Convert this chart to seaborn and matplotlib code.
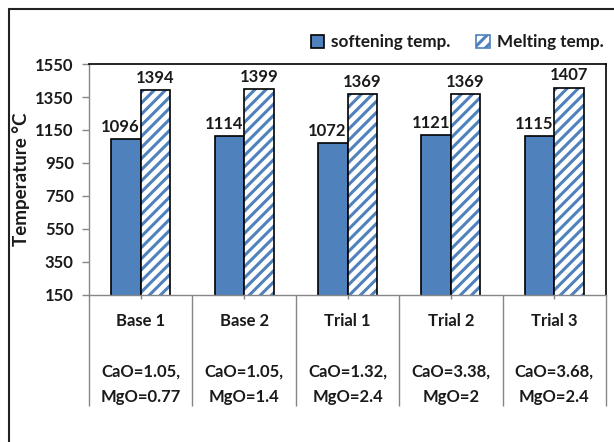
import matplotlib
matplotlib.use("Agg")
import matplotlib.pyplot as plt
from matplotlib.patches import Rectangle, Patch
from matplotlib.lines import Line2D
from matplotlib.transforms import blended_transform_factory
import seaborn as sns
import pandas as pd

# Test data
samples = ["Base 1", "Base 2", "Trial 1", "Trial 2", "Trial 3"]
compositions = ["CaO=1.05,\nMgO=0.77", "CaO=1.05,\nMgO=1.4", "CaO=1.32,\nMgO=2.4",
                "CaO=3.38,\nMgO=2", "CaO=3.68,\nMgO=2.4"]
softening = [1096, 1114, 1072, 1121, 1115]
melting = [1394, 1399, 1369, 1369, 1407]
series = ["softening temp.", "Melting temp."]
y_ticks = [150, 350, 550, 750, 950, 1150, 1350, 1550]

sns.set_theme(style="white")
plt.rcParams["font.family"] = ["Lato", "DejaVu Sans"]
plt.rcParams["hatch.linewidth"] = 2.2

BLUE = "#4F81BD"
GRAY = "#868686"
TEXT = "#1a1a1a"

df = pd.DataFrame({
    "sample": samples * 2,
    "series": [series[0]] * len(samples) + [series[1]] * len(samples),
    "temp": softening + melting,
})

fig = plt.figure(figsize=(6.14, 4.42), dpi=100)
ax = fig.add_axes([0.145, 0.3326, 0.842, 0.5226])

sns.barplot(data=df, x="sample", y="temp", hue="series", order=samples,
            hue_order=series, palette=[BLUE, "white"], saturation=1, width=0.57, gap=0,
            edgecolor="black", linewidth=1.2, legend=False, ax=ax)

# Style the melting-temperature bars with a blue diagonal hatch and black outline
n = len(samples)
bars = list(ax.patches)[: 2 * n]
for p in bars[n:]:
    p.set_facecolor("white")
    p.set_hatch("///")
    p.set_edgecolor(BLUE)
    p.set_linewidth(0)
    ax.add_patch(Rectangle((p.get_x(), p.get_y()), p.get_width(), p.get_height(),
                           fill=False, edgecolor="black", linewidth=1.2, zorder=p.get_zorder() + 0.1))

# Value labels above each bar
for k, (p, v) in enumerate(zip(bars, softening + melting)):
    dx = -4 if k < n else 0
    ax.annotate(f"{v}", (p.get_x() + p.get_width() / 2, v), xytext=(dx, 3),
                textcoords="offset points", ha="center", va="bottom",
                fontsize=12, fontweight="bold", color=TEXT)

ax.set_ylim(150, 1550)
ax.set_xlim(-0.5, n - 0.5)
ax.set_yticks(y_ticks)
ax.set_yticklabels([str(t) for t in y_ticks], fontsize=12, fontweight="bold", color=TEXT)
ax.tick_params(axis="y", length=5, width=1, color=GRAY, left=True, pad=6)

# Category axis: short ticks at centres, long divider ticks between samples
ax.set_xticks(range(n))
ax.set_xticklabels([])
ax.set_xticks([i - 0.5 for i in range(n + 1)], minor=True)
ax.tick_params(axis="x", which="major", length=3, width=1, color=GRAY, bottom=True)
ax.tick_params(axis="x", which="minor", length=80, width=1, color=GRAY, bottom=True)
ax.set_xlabel("")

trans = blended_transform_factory(ax.transData, ax.transAxes)
for i, (s, c) in enumerate(zip(samples, compositions)):
    ax.text(i, -0.277, f"{s}\n\n{c}", transform=trans, ha="center", va="center",
            multialignment="center", fontsize=12, fontweight="bold", color=TEXT,
            linespacing=1.7)

ax.set_ylabel("Temperature °C", fontsize=13.5, fontweight="bold", color=TEXT)
ax.yaxis.set_label_coords(-0.114, 0.5)

for side in ["top", "right"]:
    ax.spines[side].set_color("black")
    ax.spines[side].set_linewidth(1.2)
for side in ["left", "bottom"]:
    ax.spines[side].set_color(GRAY)
    ax.spines[side].set_linewidth(1.0)

# Legend above the plot area
handles = [Patch(facecolor=BLUE, edgecolor="black", linewidth=1.2),
           Patch(facecolor="white", edgecolor=BLUE, hatch="///", linewidth=1.2)]
leg = fig.legend(handles, series, loc="center right", bbox_to_anchor=(1.008, 0.905),
                 ncol=2, frameon=False, handlelength=0.8, handleheight=0.8,
                 handletextpad=0.4, columnspacing=1.5,
                 prop={"size": 12.3, "weight": "bold"})
for t in leg.get_texts():
    t.set_color(TEXT)

# Frame lines of the chart area
fig.add_artist(Line2D([9 / 614, 9 / 614], [0, 1 - 9 / 442], color="#222222", linewidth=1.5,
                      transform=fig.transFigure))
fig.add_artist(Line2D([9 / 614, 1], [1 - 9 / 442, 1 - 9 / 442], color="#222222", linewidth=1.5,
                      transform=fig.transFigure))

fig.savefig("out.png", dpi=100)
